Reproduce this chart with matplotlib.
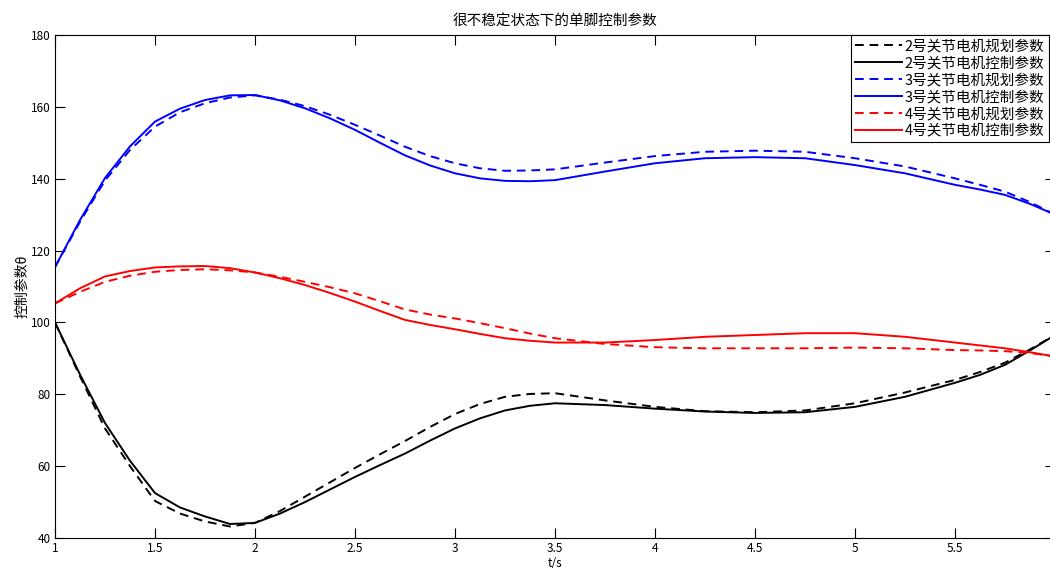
import matplotlib
matplotlib.use("Agg")
import matplotlib.pyplot as plt
import numpy as np

plt.rcParams['font.family'] = ['Noto Sans CJK SC', 'DejaVu Sans']

t = [1.0, 1.125, 1.25, 1.375, 1.5, 1.625, 1.75, 1.875, 2.0, 2.125, 2.25, 2.375,
     2.5, 2.625, 2.75, 2.875, 3.0, 3.125, 3.25, 3.375, 3.5, 3.75, 4.0, 4.25,
     4.5, 4.75, 5.0, 5.25, 5.5, 5.625, 5.75, 5.875, 6.0]

# 2号关节
j2_plan = [100, 85, 70.5, 60, 50.3, 46.8, 44.6, 43.2, 44.2, 47.5, 51.5, 55.5,
           59.5, 63.3, 67, 70.9, 74.5, 77.3, 79.3, 80.1, 80.3, 78.3, 76.5, 75.3,
           75.0, 75.5, 77.5, 80.5, 84.0, 86.2, 88.8, 92.5, 96.5]
j2_ctrl = [100, 85.5, 72, 61.5, 52.5, 48.5, 46, 43.9, 44.2, 46.8, 50, 53.5,
           57, 60.3, 63.5, 67.1, 70.5, 73.3, 75.5, 76.8, 77.5, 77, 76, 75.2,
           74.8, 75.0, 76.5, 79.3, 83.2, 85.4, 88.2, 92.2, 96.5]
# 3号关节
j3_plan = [115.4, 128, 139.5, 148, 154.5, 158.5, 161, 162.6, 163.2, 162, 160.2, 157.8,
           155, 152, 148.9, 146.3, 144.3, 142.9, 142.2, 142.3, 142.6, 144.5, 146.3, 147.5,
           147.8, 147.5, 145.7, 143.4, 140.1, 138.3, 136.4, 133.5, 130]
j3_ctrl = [115.4, 128.5, 140.2, 149, 155.9, 159.5, 161.9, 163.2, 163.3, 161.8, 159.6, 156.8,
           153.6, 150, 146.5, 143.7, 141.5, 140.1, 139.4, 139.3, 139.6, 142, 144.3, 145.7,
           146, 145.7, 143.8, 141.5, 138.3, 137.0, 135.5, 133, 130]
# 4号关节
j4_plan = [105.3, 108.5, 111.3, 113, 114.1, 114.6, 114.8, 114.5, 113.9, 112.7, 111.3, 109.8,
           108.1, 105.9, 103.6, 102.2, 101.1, 99.8, 98.4, 96.9, 95.6, 94, 93.1, 92.8,
           92.8, 92.8, 93, 92.8, 92.3, 92.2, 92, 91.5, 90.5]
j4_ctrl = [105.3, 109.5, 112.8, 114.3, 115.3, 115.6, 115.7, 115.1, 113.9, 112.3, 110.4, 108.2,
           105.8, 103.2, 100.7, 99.3, 98.1, 96.8, 95.6, 94.9, 94.4, 94.4, 95.1, 96,
           96.5, 97, 97, 96, 94.4, 93.6, 92.8, 91.7, 90.5]

labels = ['2号关节电机规划参数', '2号关节电机控制参数',
          '3号关节电机规划参数', '3号关节电机控制参数',
          '4号关节电机规划参数', '4号关节电机控制参数']

fig = plt.figure(figsize=(10.5, 5.68), dpi=100)
ax = fig.add_axes([55 / 1050, 30 / 568, 1000 / 1050, 503 / 568])

dash = (0, (4.5, 3))
lw = 1.4
ax.plot(t, j2_plan, color='k', ls=dash, lw=lw, label=labels[0])
ax.plot(t, j2_ctrl, color='k', ls='-', lw=lw, label=labels[1])
ax.plot(t, j3_plan, color='b', ls=dash, lw=lw, label=labels[2])
ax.plot(t, j3_ctrl, color='b', ls='-', lw=lw, label=labels[3])
ax.plot(t, j4_plan, color='r', ls=dash, lw=lw, label=labels[4])
ax.plot(t, j4_ctrl, color='r', ls='-', lw=lw, label=labels[5])

ax.set_xlim(1, 6)
ax.set_ylim(40, 180)
ax.set_xticks(np.arange(1, 6.01, 0.5))
ax.set_xticklabels(['%g' % v for v in np.arange(1, 6.01, 0.5)])
ax.set_yticks(np.arange(40, 181, 20))
ax.tick_params(direction='in', length=7, width=0.8, top=True, right=True,
               labelsize=8.5, pad=3)
for s in ax.spines.values():
    s.set_linewidth(0.8)

ax.set_title('很不稳定状态下的单脚控制参数', fontsize=10.5, pad=7)
ax.set_xlabel('t/s', fontsize=8.5, labelpad=1)
ax.set_ylabel('控制参数θ', fontsize=10, labelpad=1)

leg = ax.legend(loc='upper right', bbox_to_anchor=(1049 / 1050, 533 / 568),
                bbox_transform=fig.transFigure, fontsize=10.5, frameon=True,
                fancybox=False, edgecolor='k', framealpha=1, borderpad=0.3,
                labelspacing=0.2, handlelength=3.2, handletextpad=0.2,
                borderaxespad=0)
leg.get_frame().set_linewidth(0.8)

fig.savefig('out.png', dpi=100)
